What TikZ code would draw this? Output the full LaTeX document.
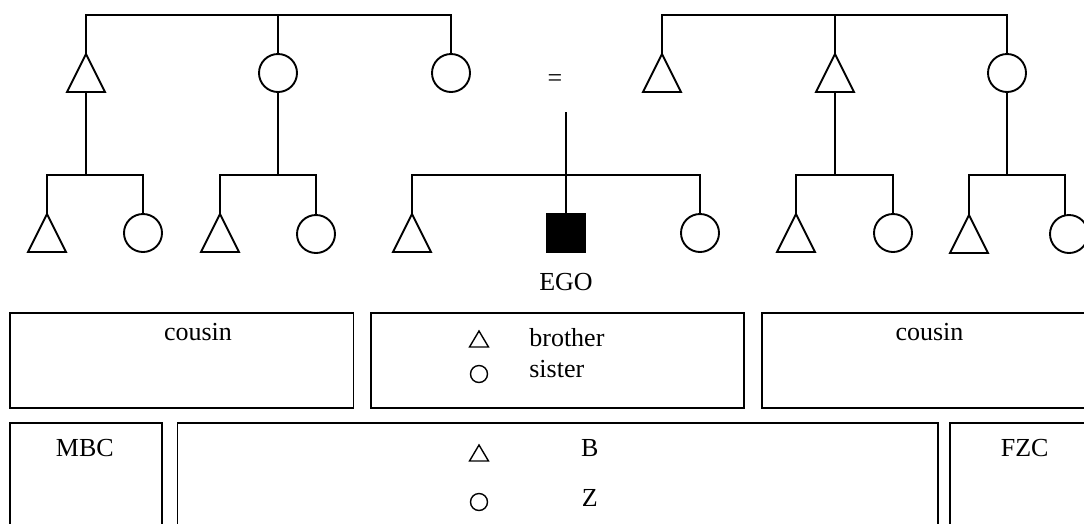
\documentclass[tikz,border=0pt]{standalone}
\usepackage{fontspec}
\setmainfont{Liberation Serif}
\begin{document}
\begin{tikzpicture}[x=1pt,y=-1pt,
  line width=1.9pt,
  person/.style={minimum size=38pt, inner sep=0pt, outer sep=0pt},
  female/.style={person, circle, draw},
  male/.style={person, rectangle, draw=none},
  egosq/.style={rectangle, fill=black, draw=none, minimum size=40pt, inner sep=0pt, outer sep=0pt},
  frame/.style={line width=1.7pt},
  lbl/.style={font=\fontsize{26}{30}\selectfont, inner sep=0pt, anchor=base},
  symm/.style={rectangle, draw=none, minimum width=19pt, minimum height=16pt, inner sep=0pt, outer sep=0pt},
  symf/.style={circle, draw, line width=1.4pt, minimum size=17pt, inner sep=0pt, outer sep=0pt},
]
\newcommand\drawtri[2][]{\draw[line join=miter,#1] (#2.south west) -- (#2.north) -- (#2.south east) -- cycle;}
\useasboundingbox (0,0) rectangle (1084,523);
\clip (0,0) rectangle (1084,523);

% bar heights
\coordinate (topbar) at (0,15);
\coordinate (sibbar) at (0,175);

% parents' generation, mother's side
\node[male]   (mb)  at (86,73) {};
\node[female] (m)   at (278,73) {};
\node[female] (mz)  at (451,73) {};
% parents' generation, father's side
\node[male]   (f)   at (662,73) {};
\node[male]   (fb)  at (835,73) {};
\node[female] (fz)  at (1007,73) {};
\foreach \t in {mb,f,fb} {\drawtri{\t}}

\node[lbl] (marriage) at (555,86) {=};
\coordinate (egoline) at (566,112);

% ego's generation
\node[male]   (mbs) at (47,233) {};
\node[female] (mbd) at (143,233) {};
\node[male]   (mzs) at (220,233) {};
\node[female] (mzd) at (316,234) {};
\node[male]   (b)   at (412,233) {};
\node[egosq]  (ego) at (566,233) {};
\node[female] (z)   at (700,233) {};
\node[male]   (fbs) at (796,233) {};
\node[female] (fbd) at (893,233) {};
\node[male]   (fzs) at (969,234) {};
\node[female] (fzd) at (1069,234) {};
\coordinate (fzdrop) at (1065,175);
\foreach \t in {mbs,mzs,b,fbs,fzs} {\drawtri{\t}}

\node[lbl] (egolbl) at (566,290) {EGO};

% sibling sets of the parents
\draw (mb.north) -- (mb.north |- topbar) -- (mz.north |- topbar) -- (mz.north);
\draw (m.north) -- (m.north |- topbar);
\draw (f.north) -- (f.north |- topbar) -- (fz.north |- topbar) -- (fz.north);
\draw (fb.north) -- (fb.north |- topbar);

% children
\draw (mbs.north) -- (mbs.north |- sibbar) -- (mbd.north |- sibbar) -- (mbd.north);
\draw (mb.south) -- (mb.south |- sibbar);
\draw (mzs.north) -- (mzs.north |- sibbar) -- (mzd.north |- sibbar) -- (mzd.north);
\draw (m.south) -- (m.south |- sibbar);
\draw (b.north) -- (b.north |- sibbar) -- (z.north |- sibbar) -- (z.north);
\draw (egoline) -- (ego.north);
\draw (fbs.north) -- (fbs.north |- sibbar) -- (fbd.north |- sibbar) -- (fbd.north);
\draw (fb.south) -- (fb.south |- sibbar);
\draw (fzs.north) -- (fzs.north |- sibbar) -- (fzdrop) -- (fzdrop |- fzd.north);
\draw (fz.south) -- (fz.south |- sibbar);

% terminology frames, upper row
\draw[frame] (9.7,313) rectangle (353.6,408.3);
\draw[frame] (371.3,313) rectangle (743.7,408.3);
\draw[frame] (761.7,313) rectangle (1100,408.3);
\node[lbl] (cous1) at (198,340) {cousin};
\node[lbl] (cous2) at (929.5,340) {cousin};
\node[symm] (s1) at (479,339) {};
\drawtri[line width=1.4pt]{s1}
\node[symf] (s2) at (479,374) {};
\node[lbl, anchor=base west] (bro) at (528.4,346) {brother};
\node[lbl, anchor=base west] (sis) at (528.4,377) {sister};

% terminology frames, lower row
\draw[frame] (9.7,423.3) rectangle (162,540);
\draw[frame] (177.5,423.3) rectangle (938.2,540);
\draw[frame] (950.3,423.3) rectangle (1100,540);
\node[lbl] (mbc) at (84.8,456) {MBC};
\node[lbl] (fzc) at (1024.7,456) {FZC};
\node[symm] (s3) at (479,453) {};
\drawtri[line width=1.4pt]{s3}
\node[symf] (s4) at (479,502) {};
\node[lbl] (bb) at (589.8,456) {B};
\node[lbl] (zz) at (589.8,506) {Z};
\end{tikzpicture}
\end{document}
